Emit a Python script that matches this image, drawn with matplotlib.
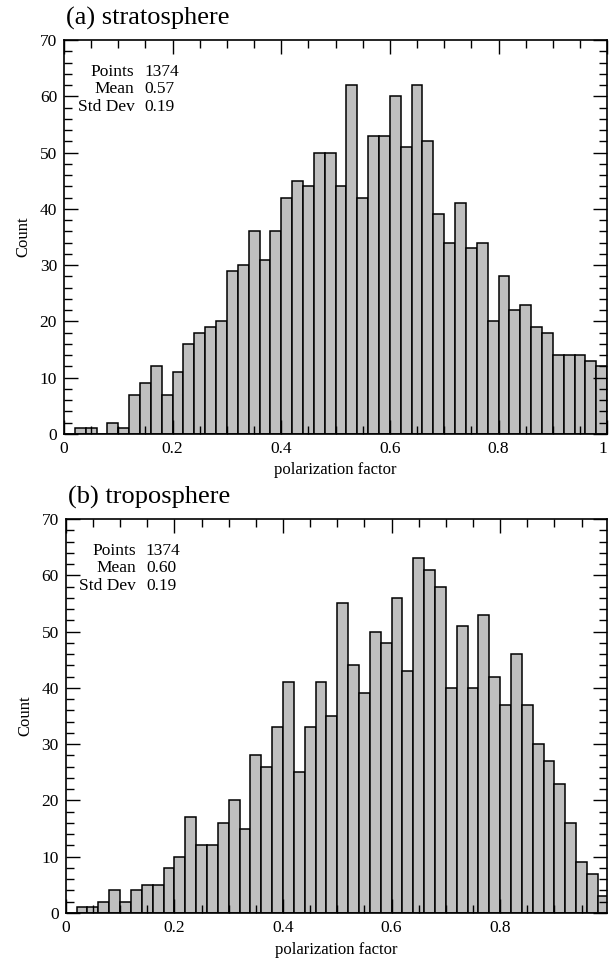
# two histograms of polarization factor, stratosphere vs troposphere
import matplotlib
matplotlib.use('Agg')
import numpy as np
import matplotlib.pyplot as plt
from matplotlib.ticker import MultipleLocator

plt.rcParams['font.family'] = ['Liberation Serif', 'DejaVu Serif']

# bin edges: 50 bins of width 0.02 between 0 and 1
bin_edges = np.linspace(0, 1, 51)

strat_counts = [0, 1, 1, 0, 2, 1, 7, 9, 12, 7,
                11, 16, 18, 19, 20, 29, 30, 36, 31, 36,
                42, 45, 44, 50, 50, 44, 62, 42, 53, 53,
                60, 51, 62, 52, 39, 34, 41, 33, 34, 20,
                28, 22, 23, 19, 18, 14, 14, 14, 13, 12]

trop_counts = [0, 1, 1, 2, 4, 2, 4, 5, 5, 8,
               10, 17, 12, 12, 16, 20, 15, 28, 26, 33,
               41, 25, 33, 41, 35, 55, 44, 39, 50, 48,
               56, 43, 63, 61, 58, 40, 51, 40, 53, 42,
               37, 46, 37, 30, 27, 23, 16, 9, 7, 3]

titles = ['(a) stratosphere', '(b) troposphere']
stat_names = ['Points', 'Mean', 'Std Dev']
strat_stats = ['1374', '0.57', '0.19']
trop_stats = ['1374', '0.60', '0.19']

strat_ticks = [0, 0.2, 0.4, 0.6, 0.8, 1]
strat_ticklabels = ['0', '0.2', '0.4', '0.6', '0.8', '1']
trop_ticks = [0, 0.2, 0.4, 0.6, 0.8]
trop_ticklabels = ['0', '0.2', '0.4', '0.6', '0.8']

fig = plt.figure(figsize=(6.09, 9.64), dpi=100)
ax_a = fig.add_axes([0.105, 0.5498, 0.892, 0.4087])
ax_b = fig.add_axes([0.108, 0.0529, 0.889, 0.4087])

panels = [(ax_a, strat_counts, titles[0], strat_stats, strat_ticks, strat_ticklabels, 1.0),
          (ax_b, trop_counts, titles[1], trop_stats, trop_ticks, trop_ticklabels, 0.997)]

for ax, counts, title, stats, ticks, ticklabels, xmax in panels:
    ax.bar(bin_edges[:-1], counts, width=0.02, align='edge',
           color='#bfbfbf', edgecolor='black', linewidth=1.1)
    ax.set_xlim(0, xmax)
    ax.set_ylim(0, 70)

    ax.set_xticks(ticks)
    ax.set_xticklabels(ticklabels)
    ax.xaxis.set_minor_locator(MultipleLocator(0.05))
    ax.yaxis.set_major_locator(MultipleLocator(10))
    ax.yaxis.set_minor_locator(MultipleLocator(2))

    ax.tick_params(which='both', direction='in', top=True, right=True,
                   labelsize=12.5, width=1)
    ax.tick_params(which='major', length=10)
    ax.tick_params(which='minor', length=5.5)
    ax.tick_params(axis='x', which='both', pad=5)
    ax.tick_params(axis='y', which='both', pad=5)
    # last label sits on the figure edge, keep it inside
    if ticklabels[-1] == '1':
        ax.get_xticklabels()[-1].set_horizontalalignment('right')

    for sp in ax.spines.values():
        sp.set_linewidth(1.2)

    ax.set_ylabel('Count', fontsize=12, labelpad=6)
    ax.set_xlabel('polarization factor', fontsize=12, labelpad=4)
    ax.text(0.004, 1.025, title, transform=ax.transAxes, fontsize=19,
            ha='left', va='bottom')

    for i, (name, val) in enumerate(zip(stat_names, stats)):
        y = 0.92 - i * 0.0445
        ax.text(0.13, y, name, transform=ax.transAxes, fontsize=12.5,
                ha='right', va='center')
        ax.text(0.148, y, val, transform=ax.transAxes, fontsize=12.5,
                ha='left', va='center')

fig.savefig('out.png', dpi=100)
